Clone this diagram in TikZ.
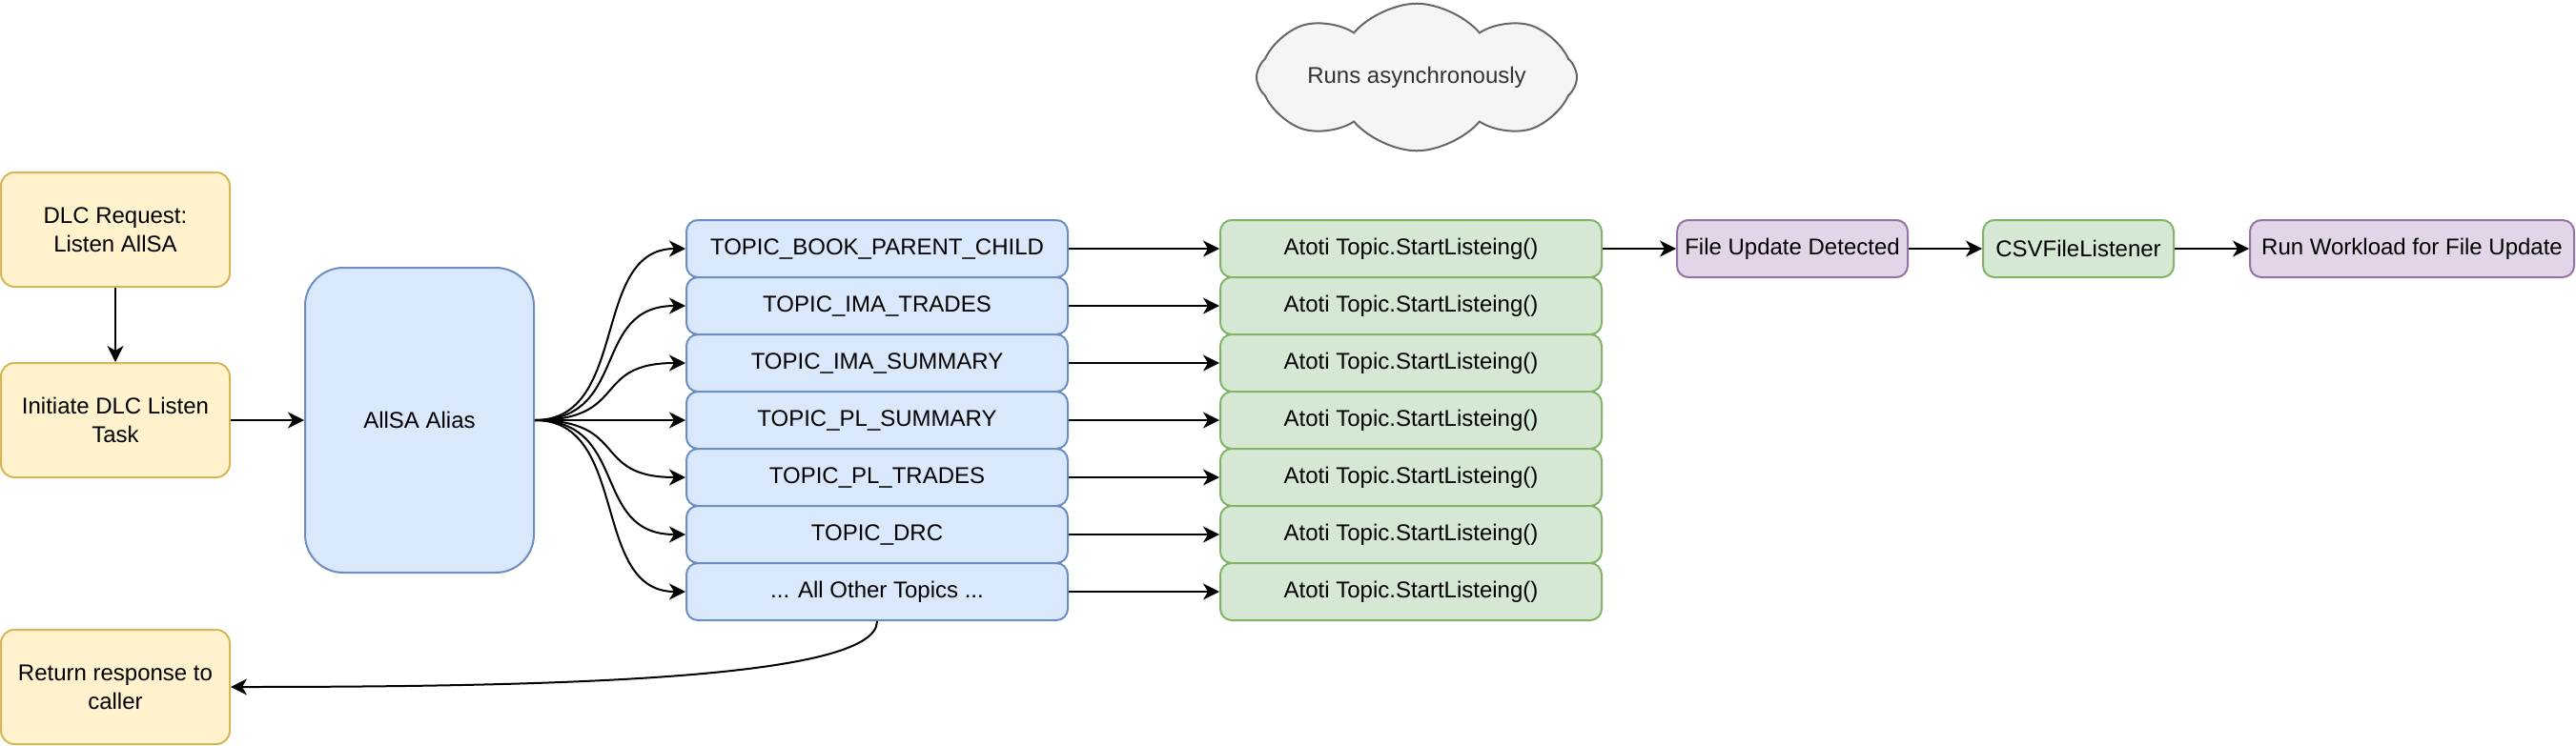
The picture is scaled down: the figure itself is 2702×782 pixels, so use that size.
\documentclass[tikz,border=0pt]{standalone}
\usepackage{fontspec}
\setmainfont{Liberation Sans}
\usetikzlibrary{arrows.meta,shapes.symbols}
\definecolor{yelfill}{HTML}{FFF2CC}
\definecolor{yelline}{HTML}{D6B656}
\definecolor{bluefill}{HTML}{DAE8FC}
\definecolor{blueline}{HTML}{6C8EBF}
\definecolor{greenfill}{HTML}{D5E8D4}
\definecolor{greenline}{HTML}{82B366}
\definecolor{purpfill}{HTML}{E1D5E7}
\definecolor{purpline}{HTML}{9673A6}
\definecolor{cloudfill}{HTML}{F5F5F5}
\definecolor{cloudline}{HTML}{666666}
\definecolor{cloudtext}{HTML}{333333}

\tikzset{
  reqbox/.style={draw=yelline,fill=yelfill,rounded corners=7pt,
    minimum width=120pt,minimum height=60pt,align=center,inner sep=2pt},
  aliasbox/.style={draw=blueline,fill=bluefill,rounded corners=20pt,
    minimum width=120pt,minimum height=160pt,inner sep=2pt},
  topicbox/.style={draw=blueline,fill=bluefill,rounded corners=6pt,
    minimum width=200pt,minimum height=30pt,inner sep=2pt},
  listenbox/.style={draw=greenline,fill=greenfill,rounded corners=6pt,
    minimum width=200pt,minimum height=30pt,inner sep=2pt},
  eventbox/.style={draw=purpline,fill=purpfill,rounded corners=6pt,
    minimum height=30pt,inner sep=2pt},
}

\begin{document}
\begin{tikzpicture}[x=0.5pt,y=-0.5pt,line width=1pt,
    font=\fontsize{12}{15}\selectfont,
    >={Stealth[length=8.5pt,width=8.5pt,inset=2.5pt]}]
  \useasboundingbox (0,0) rectangle (2702,782);

  % request side
  \node[reqbox] (req) at (121,241) {DLC Request:\\Listen AllSA};
  \node[reqbox] (init) at (121,441) {Initiate DLC Listen\\Task};
  \node[reqbox] (ret) at (121,721) {Return response to\\caller};
  \node[aliasbox] (alias) at (440,441) {AllSA Alias};

  % one box per topic, each with its own listener
  \node[topicbox] (tbook) at (920,261) {TOPIC\_BOOK\_PARENT\_CHILD};
  \node[topicbox] (timat) at (920,321) {TOPIC\_IMA\_TRADES};
  \node[topicbox] (timas) at (920,381) {TOPIC\_IMA\_SUMMARY};
  \node[topicbox] (tpls) at (920,441) {TOPIC\_PL\_SUMMARY};
  \node[topicbox] (tplt) at (920,501) {TOPIC\_PL\_TRADES};
  \node[topicbox] (tdrc) at (920,561) {TOPIC\_DRC};
  \node[topicbox] (tother) at (920,621) {... All Other Topics ...};

  \node[listenbox] (lbook) at (1480,261) {Atoti Topic.StartListeing()};
  \node[listenbox] (limat) at (1480,321) {Atoti Topic.StartListeing()};
  \node[listenbox] (limas) at (1480,381) {Atoti Topic.StartListeing()};
  \node[listenbox] (lpls) at (1480,441) {Atoti Topic.StartListeing()};
  \node[listenbox] (lplt) at (1480,501) {Atoti Topic.StartListeing()};
  \node[listenbox] (ldrc) at (1480,561) {Atoti Topic.StartListeing()};
  \node[listenbox] (lother) at (1480,621) {Atoti Topic.StartListeing()};

  \node[eventbox,minimum width=121pt] (fud) at (1880,261)
    {File Update Detected};
  \node[listenbox,minimum width=100pt] (csv) at (2180,261)
    {CSVFileListener};
  \node[eventbox,minimum width=170pt] (run) at (2530,261)
    {Run Workload for File Update};

  \node[cloud,cloud puffs=8,cloud puff arc=100,aspect=3.4,
        draw=cloudline,fill=cloudfill,text=cloudtext,
        minimum width=168pt,minimum height=54pt] (async) at (1486,81)
    {Runs asynchronously};

  \draw[->] (req) -- (init);
  \draw[->] (init) -- (alias);

  % fan out from the alias to every topic
  \draw[->] (alias.east) .. controls +(100,0) and +(-100,0) .. (tbook.west);
  \draw[->] (alias.east) .. controls +(100,0) and +(-100,0) .. (timat.west);
  \draw[->] (alias.east) .. controls +(100,0) and +(-100,0) .. (timas.west);
  \draw[->] (alias.east) -- (tpls.west);
  \draw[->] (alias.east) .. controls +(100,0) and +(-100,0) .. (tplt.west);
  \draw[->] (alias.east) .. controls +(100,0) and +(-100,0) .. (tdrc.west);
  \draw[->] (alias.east) .. controls +(100,0) and +(-100,0) .. (tother.west);

  \draw[->] (tbook) -- (lbook);
  \draw[->] (timat) -- (limat);
  \draw[->] (timas) -- (limas);
  \draw[->] (tpls) -- (lpls);
  \draw[->] (tplt) -- (lplt);
  \draw[->] (tdrc) -- (ldrc);
  \draw[->] (tother) -- (lother);

  \draw[->] (lbook) -- (fud);
  \draw[->] (fud) -- (csv);
  \draw[->] (csv) -- (run);

  % answer goes back before the listeners finish
  \draw[->] (tother.south) .. controls +(0,60) and +(350,0) .. (ret.east);
\end{tikzpicture}
\end{document}
